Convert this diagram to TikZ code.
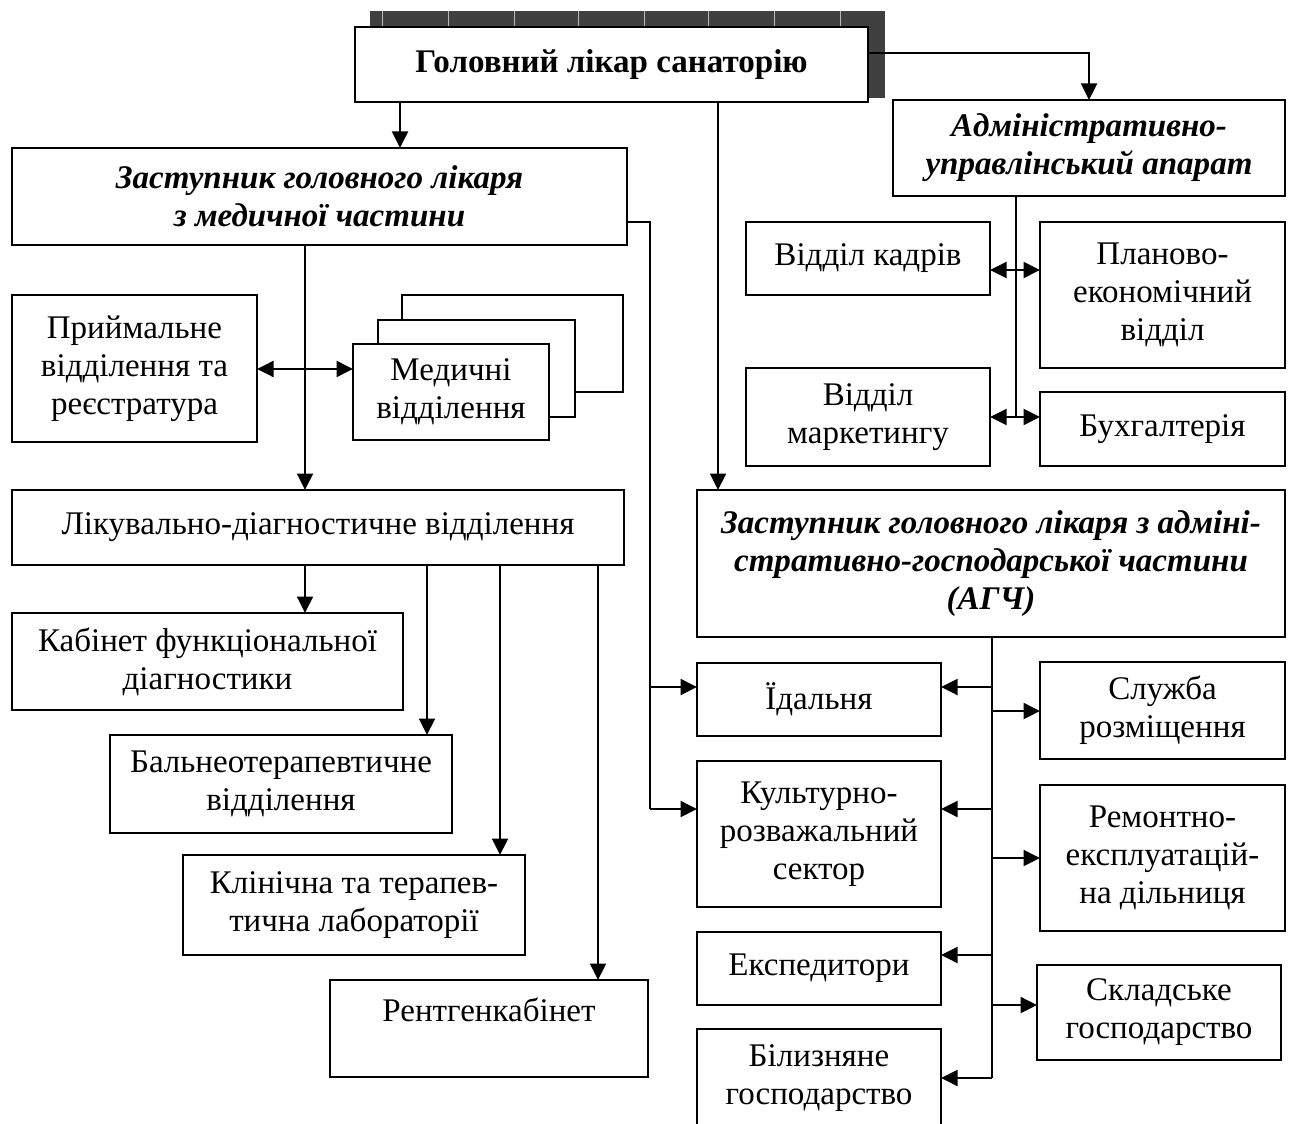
\documentclass[tikz,border=0pt]{standalone}
\usepackage{fontspec}
\setmainfont{Liberation Serif}
\usetikzlibrary{arrows.meta}
\newcommand{\bnode}[7][]{\node[bx,#1,minimum width={(#4-#2)*0.02cm},minimum height={(#5-#3)*0.02cm}] (#6) at ({(#2+#4)/2},{(#3+#5)/2}) {#7};}
\begin{document}
\begin{tikzpicture}[x=0.02cm,y=-0.02cm,
  bx/.style={draw,line width=1.1pt,inner sep=0pt,outer sep=0pt,align=center,font=\fontsize{18.8}{21.6}\selectfont},
  hd/.style={font=\fontsize{18.8}{21.6}\selectfont\bfseries\itshape},
  ln/.style={line width=1.1pt},
  tip/.tip={Triangle[length=0.33cm,width=0.32cm]},
  arr/.style={ln,-tip},
  arr2/.style={ln,tip-tip}]
\useasboundingbox (0,0) rectangle (1293,1124);
\clip (0,0) rectangle (1293,1124);
% shadow of the top box
\fill[black!75] (370,11) rectangle (885,98);
\foreach \x in {382,448,514,578,644,708,774,840}
  \draw[gray!55,line width=0.4pt] (\x,11) -- (\x,98);
\bnode[fill=white,font=\fontsize{18.8}{21.6}\selectfont\bfseries]{355}{27}{868}{102}{top}{Головний лікар санаторію}
% left part
\bnode[hd]{12}{148}{627}{245}{dmed}{Заступник головного лікаря\\з медичної частини}
\bnode{12}{295}{257}{442}{prym}{Приймальне\\відділення та\\реєстратура}
\bnode{402}{295}{623}{392}{med3}{}
\bnode[fill=white]{378}{320}{575}{417}{med2}{}
\bnode[fill=white]{353}{344}{549}{440}{med1}{Медичні\\відділення}
\bnode{12}{490}{624}{565}{lik}{Лікувально-діагностичне відділення}
\bnode{12}{613}{403}{710}{kab}{Кабінет функціональної\\діагностики}
\bnode{110}{735}{452}{833}{bal}{Бальнеотерапевтичне\\відділення}
\bnode{183}{855}{525}{955}{klin}{Клінічна та терапев-\\тична лабораторії}
\bnode{330}{980}{648}{1077}{rent}{Рентгенкабінет\\ \mbox{}}
% right upper part
\bnode[hd]{893}{100}{1285}{196}{adm}{Адміністративно-\\управлінський апарат}
\bnode{746}{222}{990}{295}{kadr}{Відділ кадрів}
\bnode{1040}{222}{1285}{368}{plan}{Планово-\\економічний\\відділ}
\bnode{746}{368}{990}{466}{mark}{Відділ\\маркетингу}
\bnode{1040}{392}{1285}{466}{buh}{Бухгалтерія}
% right lower part
\bnode[hd]{697}{490}{1285}{637}{agc}{Заступник головного лікаря з адміні-\\стративно-господарської частини\\(АГЧ)}
\bnode{697}{663}{941}{736}{idal}{Їдальня}
\bnode{697}{761}{941}{907}{kult}{Культурно-\\розважальний\\сектор}
\bnode{697}{932}{941}{1005}{exp}{Експедитори}
\bnode{697}{1029}{941}{1128}{bil}{Білизняне\\господарство}
\bnode{1040}{662}{1285}{759}{sluzh}{Служба\\розміщення}
\bnode{1040}{785}{1285}{931}{rem}{Ремонтно-\\експлуатацій-\\на дільниця}
\bnode{1037}{965}{1281}{1060}{sklad}{Складське\\господарство}
% connectors from the head
\draw[arr] (400,0 |- top.south) -- (400,0 |- dmed.north);
\draw[arr] (718,0 |- top.south) -- (718,0 |- agc.north);
\draw[arr] (top.east |- 0,53) -| (adm.north);
% medical deputy
\draw[arr] (305,0 |- dmed.south) -- (305,0 |- lik.north);
\draw[arr2] (prym.east |- 0,369) -- (med1.west |- 0,369);
\draw[ln] (dmed.east |- 0,222) -- (650,222) -- (650,809);
\draw[arr] (650,687) -- (idal.west |- 0,687);
\draw[arr] (650,809) -- (kult.west |- 0,809);
% diagnostics
\draw[arr] (305,0 |- lik.south) -- (305,0 |- kab.north);
\draw[arr] (427,0 |- lik.south) -- (427,0 |- bal.north);
\draw[arr] (500,0 |- lik.south) -- (500,0 |- klin.north);
\draw[arr] (598,0 |- lik.south) -- (598,0 |- rent.north);
% administration
\draw[ln] (1016,0 |- adm.south) -- (1016,417);
\draw[arr2] (kadr.east |- 0,270) -- (plan.west |- 0,270);
\draw[arr2] (mark.east |- 0,417) -- (buh.west |- 0,417);
% AGC
\draw[ln] (992,0 |- agc.south) -- (992,1078);
\draw[arr] (992,687) -- (idal.east |- 0,687);
\draw[arr] (992,809) -- (kult.east |- 0,809);
\draw[arr] (992,955) -- (exp.east |- 0,955);
\draw[arr] (992,1078) -- (bil.east |- 0,1078);
\draw[arr] (991,711) -- (sluzh.west |- 0,711);
\draw[arr] (991,858) -- (rem.west |- 0,858);
\draw[arr] (991,1005) -- (sklad.west |- 0,1005);
\end{tikzpicture}
\end{document}
